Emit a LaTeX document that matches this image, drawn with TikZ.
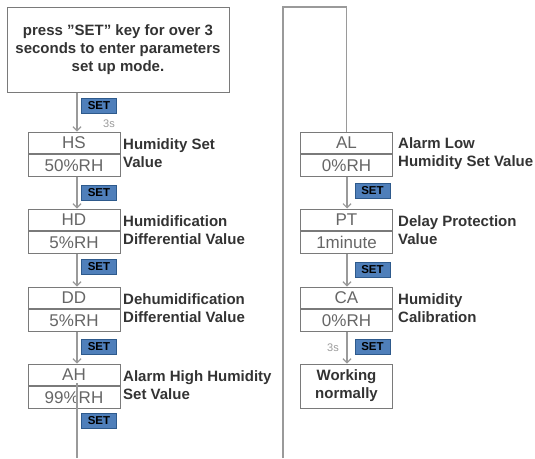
\documentclass[tikz,border=0pt]{standalone}
\usepackage{fontspec}
\setmainfont{Liberation Sans}
\usetikzlibrary{arrows.meta,calc}
\definecolor{linegray}{HTML}{9A9A9A}
\definecolor{boxgray}{HTML}{7A7A7A}
\definecolor{celltext}{HTML}{666666}
\definecolor{labeltext}{HTML}{333333}
\definecolor{setfill}{HTML}{4F7FBA}
\definecolor{setdraw}{HTML}{2E5A8C}
\begin{document}
\begin{tikzpicture}[x=1pt,y=-1pt,
  cell/.style={draw=boxgray,line width=1pt,minimum width=92pt,minimum height=21.5pt,inner sep=0pt,
    text=celltext,font=\fontsize{17}{17}\selectfont},
  textbox/.style={draw=boxgray,line width=1pt,inner sep=0pt,align=center,text=labeltext,
    font=\fontsize{15}{18}\selectfont\bfseries},
  lbl/.style={anchor=west,align=left,inner sep=0pt,text=labeltext,font=\fontsize{15}{18}\selectfont\bfseries},
  setkey/.style={draw=setdraw,fill=setfill,line width=0.8pt,minimum width=35pt,minimum height=15pt,inner sep=0pt,
    font=\fontsize{11.5}{11.5}\selectfont\bfseries,text=black},
  secs/.style={text=linegray,inner sep=0pt,font=\fontsize{11}{11}\selectfont},
  flow/.style={draw=linegray,line width=1.2pt,-{Straight Barb[length=4pt,width=8pt]}},
  plain/.style={draw=linegray,line width=1.2pt}]
\useasboundingbox (0,0) rectangle (535,458);
% column guides
\coordinate (lx) at (77,0);
\coordinate (rx) at (347,0);
\coordinate (bot) at (0,458);
% start box
\node[textbox,minimum width=222pt,minimum height=85pt] (start) at (118,49.5)
  {press ”SET” key for over 3\\seconds to enter parameters\\set up mode.};
% left column
\node[cell] (HS) at (74,142.75) {HS};
\node[cell,anchor=north] (HSv) at (HS.south) {50\%RH};
\node[lbl] (HSl) at (123,153.5) {Humidity Set\\Value};
\node[cell] (HD) at (74,219.75) {HD};
\node[cell,anchor=north] (HDv) at (HD.south) {5\%RH};
\node[lbl] (HDl) at (123,230.5) {Humidification\\Differential Value};
\node[cell] (DD) at (74,297.75) {DD};
\node[cell,anchor=north] (DDv) at (DD.south) {5\%RH};
\node[lbl] (DDl) at (123,308.5) {Dehumidification\\Differential Value};
\node[cell] (AH) at (74,374.75) {AH};
\node[cell,anchor=north] (AHv) at (AH.south) {99\%RH};
\node[lbl] (AHl) at (123,385.5) {Alarm High Humidity\\Set Value};
% right column
\node[cell] (AL) at (346.5,142.75) {AL};
\node[cell,anchor=north] (ALv) at (AL.south) {0\%RH};
\node[lbl] (ALl) at (398,153.5) {Alarm Low\\Humidity Set Value};
\node[cell] (PT) at (346.5,219.75) {PT};
\node[cell,anchor=north] (PTv) at (PT.south) {1minute};
\node[lbl] (PTl) at (398,230.5) {Delay Protection\\Value};
\node[cell] (CA) at (346.5,297.75) {CA};
\node[cell,anchor=north] (CAv) at (CA.south) {0\%RH};
\node[lbl] (CAl) at (398,308.5) {Humidity\\Calibration};
\node[textbox,minimum width=92pt,minimum height=44pt] (WN) at (346.5,386) {Working\\normally};
% connectors left
\draw[flow] (start.south -| lx) -- (HS.north -| lx);
\draw[flow] (HSv.south -| lx) -- (HD.north -| lx);
\draw[flow] (HDv.south -| lx) -- (DD.north -| lx);
\draw[flow] (DDv.south -| lx) -- (AH.north -| lx);
\draw[plain] (AH.south -| lx) ++(0,-3) -- (lx |- bot);
% connectors right
\coordinate (rb) at (283,458);
\coordinate (rt) at (283,7);
\draw[plain] (rb) -- (rt) -- (rt -| AL.north) -- (AL.north);
\draw[flow] (ALv.south -| rx) -- (PT.north -| rx);
\draw[flow] (PTv.south -| rx) -- (CA.north -| rx);
\draw[flow] (CAv.south -| rx) -- (WN.north -| rx);
% SET keys
\node[setkey] (k1) at (99,105.5) {SET};
\node[setkey] (k2) at (99,193) {SET};
\node[setkey] (k3) at (99,266.5) {SET};
\node[setkey] (k4) at (99,346.5) {SET};
\node[setkey] (k5) at (99,420.5) {SET};
\node[setkey] (k6) at (372.5,190.5) {SET};
\node[setkey] (k7) at (372.5,269.5) {SET};
\node[setkey] (k8) at (372.5,346.5) {SET};
\node[secs] (s1) at (109,124) {3s};
\node[secs] (s2) at (333,348) {3s};
\end{tikzpicture}
\end{document}
